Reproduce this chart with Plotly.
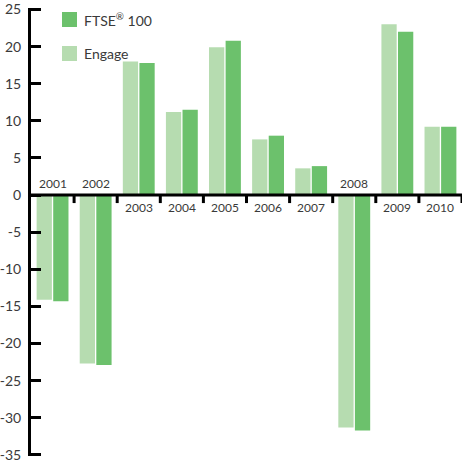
import plotly.graph_objects as go

years = ["2001", "2002", "2003", "2004", "2005", "2006", "2007", "2008", "2009", "2010"]
engage = [-14.1, -22.7, 18.0, 11.2, 19.9, 7.5, 3.6, -31.3, 23.0, 9.2]
ftse = [-14.3, -22.9, 17.8, 11.5, 20.8, 8.0, 3.9, -31.7, 22.0, 9.2]
y_ticks = [25, 20, 15, 10, 5, 0, -5, -10, -15, -20, -25, -30, -35]

LIGHT = "#b6dcb0"
DARK = "#6cc16c"
TEXT = "#3a3a3a"
FONT = "Lato, 'Open Sans', sans-serif"

W, H = 462, 468
ML, MR, MT, MB = 31, 0, 8, 12

def px_x(px):
    return (px - ML) / (W - ML - MR)

def px_y(py):
    return 1 - (py - MT) / (H - MT - MB)

fig = go.Figure()
fig.add_trace(go.Bar(x=list(range(len(years))), y=engage, name="Engage",
                     marker=dict(color=LIGHT, line=dict(width=0)), showlegend=False))
fig.add_trace(go.Bar(x=list(range(len(years))), y=ftse, name="FTSE® 100",
                     marker=dict(color=DARK, line=dict(width=0)), showlegend=False))

shapes = []
# zero line
shapes.append(dict(type="line", xref="paper", yref="y", x0=0, x1=1, y0=0, y1=0,
                   line=dict(color="black", width=3), layer="above"))
# boundary ticks below zero line
for k in range(len(years)):
    shapes.append(dict(type="line", xref="x", yref="y", ysizemode="pixel", yanchor=0,
                       x0=k + 0.5, x1=k + 0.5, y0=0, y1=-8,
                       line=dict(color="black", width=3), layer="above"))

# custom legend
legend_items = [("FTSE<sup>®</sup> 100", DARK, 12), ("Engage", LIGHT, 46)]
annotations = []
for label, col, top in legend_items:
    shapes.append(dict(type="rect", xref="paper", yref="paper",
                       x0=px_x(62), x1=px_x(77), y0=px_y(top + 15), y1=px_y(top),
                       fillcolor=col, line=dict(width=0)))
    annotations.append(dict(xref="paper", yref="paper", x=px_x(82), y=px_y(top + 7.5),
                            text=label, showarrow=False, xanchor="left", yanchor="middle",
                            font=dict(family=FONT, size=14, color=TEXT)))

# category labels: above zero for negative years, below for positive
for k, yr in enumerate(years):
    neg = min(engage[k], ftse[k]) < 0
    annotations.append(dict(x=k, y=0, xref="x", yref="y", text=yr, showarrow=False,
                            yanchor="middle", yshift=12 if neg else -12,
                            font=dict(family=FONT, size=12, color=TEXT)))

fig.update_layout(
    width=W, height=H,
    margin=dict(l=ML, r=MR, t=MT, b=MB, pad=0),
    paper_bgcolor="white", plot_bgcolor="white",
    barmode="group", bargap=0.23, bargroupgap=0.08,
    showlegend=False,
    shapes=shapes, annotations=annotations,
    font=dict(family=FONT, color=TEXT),
)
fig.update_xaxes(range=[-0.5, len(years) - 0.5], showgrid=False, zeroline=False,
                 showline=False, showticklabels=False, ticks="")
fig.update_yaxes(range=[-35.15, 25.2], tickvals=y_ticks, ticktext=[str(v) for v in y_ticks],
                 showgrid=False, zeroline=False, showline=True, linecolor="black", linewidth=3,
                 ticks="inside", ticklen=10, tickwidth=3, tickcolor="black",
                 tickfont=dict(family=FONT, size=14, color=TEXT), ticklabelstandoff=4)

fig.write_html("out.html", config={"displayModeBar": False},
               post_script="document.body.style.margin='0';")
